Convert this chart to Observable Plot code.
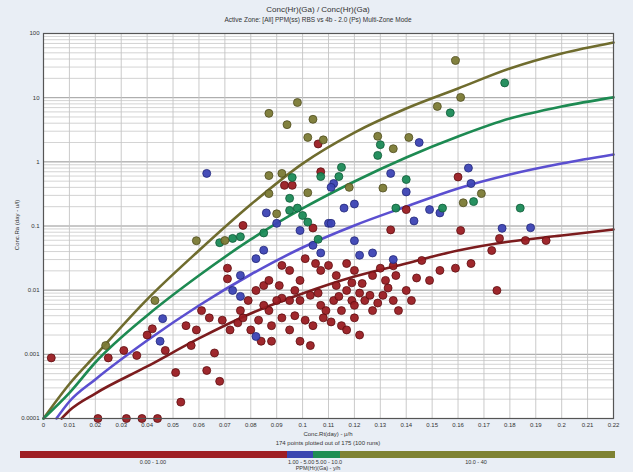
<!DOCTYPE html>
<html><head><meta charset="utf-8">
<script src="https://cdn.jsdelivr.net/npm/d3@7"></script>
<script src="https://cdn.jsdelivr.net/npm/@observablehq/plot@0.6"></script>
<style>
body{margin:0;background:#fff;font-family:"Liberation Sans",Arial,sans-serif;}
#wrap{position:relative;width:633px;height:472px;background:#e9eef5;overflow:hidden;}
#chart{position:absolute;left:0;top:0;}
.t{position:absolute;white-space:nowrap;color:#333;transform:translateX(-50%);line-height:1;}
#bar{position:absolute;left:20px;top:451px;height:7px;width:595px;display:flex;}
#bar div{height:100%;}
</style></head><body>
<div id="wrap">
<div id="chart"></div>
<div class="t" style="left:318px;top:6px;font-size:8px;">Conc(Hr)(Ga) / Conc(Hr)(Ga)</div>
<div class="t" style="left:318px;top:17px;font-size:6.5px;">Active Zone: [All] PPM(ss) RBS vs 4b - 2.0 (Ps) Multi-Zone Mode</div>
<div class="t" style="left:17px;top:225px;font-size:6px;transform:translate(-50%,-50%) rotate(-90deg);">Conc.Ra (day - u/l)</div>
<div class="t" style="left:328px;top:431px;font-size:6px;">Conc.Rt(day) - μ/h</div>
<div class="t" style="left:328px;top:440px;font-size:6px;">174 points plotted out of 175 (100 runs)</div>
<div id="bar"></div>
<div id="legendLabels"></div>
<div class="t" style="left:318px;top:466px;font-size:5.5px;">PPM(Hr)(Ga) - y/h</div>
</div>
<script>
// ---- curves (iso-lines) ----
const curveX      = [0, 0.01, 0.02, 0.04, 0.06, 0.08, 0.1, 0.12, 0.14, 0.16, 0.18, 0.2, 0.22];
const oliveCurveY = [0.0001, 0.000345, 0.000959, 0.0072, 0.0415, 0.216, 0.94, 2.86, 6.78, 13.9, 28.5, 48.8, 72.4];
const greenCurveY = [0.0001, 0.000251, 0.000746, 0.00403, 0.0169, 0.0617, 0.1875, 0.494, 1.17, 2.48, 4.73, 7.28, 10.1];
const blueCurveX  = [0.005, 0.01, 0.02, 0.04, 0.06, 0.08, 0.1, 0.12, 0.14, 0.16, 0.18, 0.2, 0.22];
const blueCurveY  = [0.0001, 0.000184, 0.000406, 0.00164, 0.00577, 0.01754, 0.0462, 0.102, 0.201, 0.385, 0.635, 0.94, 1.30];
const redCurveX   = [0.007, 0.01, 0.02, 0.04, 0.06, 0.08, 0.1, 0.12, 0.14, 0.16, 0.18, 0.2, 0.22];
const redCurveY   = [0.0001, 0.000133, 0.000245, 0.000647, 0.00177, 0.00433, 0.00887, 0.0163, 0.0261, 0.0415, 0.0574, 0.0711, 0.0883];

// ---- points ----
const oliveX = [0.024,0.043,0.070,0.087,0.098,0.094,0.104,0.102,0.108,0.087,0.092,0.087,0.102,0.090,0.159,0.161,0.152,0.129,0.135,0.141,0.118,0.131,0.169,0.162,0.059];
const oliveY = [0.00137,0.0069,0.0594,5.7,8.4,3.8,4.6,2.4,2.2,0.61,0.66,0.32,0.33,0.155,37.9,10.1,7.3,2.5,1.6,2.4,0.40,0.39,0.32,0.23,0.059];
const greenX = [0.096,0.107,0.095,0.095,0.098,0.100,0.102,0.178,0.157,0.130,0.129,0.115,0.114,0.140,0.166,0.184,0.136,0.154,0.073,0.076,0.068,0.085,0.106];
const greenY = [0.57,0.59,0.27,0.175,0.19,0.146,0.115,17,5.8,1.85,1.26,0.82,0.59,0.53,0.24,0.19,0.19,0.19,0.064,0.068,0.055,0.078,0.062];
const blueX = [0.063,0.086,0.110,0.090,0.145,0.112,0.111,0.134,0.140,0.164,0.165,0.116,0.120,0.149,0.153,0.111,0.143,0.177,0.188,0.085,0.082,0.073,0.076,0.045,0.046,0.082,0.104,0.107,0.122,0.127,0.135,0.099,0.076,0.120];
const blueY = [0.66,0.16,0.11,0.11,2.0,0.46,0.40,0.66,0.34,0.80,0.46,0.19,0.22,0.18,0.16,0.11,0.12,0.092,0.094,0.042,0.031,0.0099,0.0080,0.0016,0.0036,0.0019,0.050,0.038,0.035,0.038,0.030,0.085,0.017,0.059];
const redX = [0.003,0.021,0.032,0.038,0.044,0.053,0.025,0.031,0.036,0.040,0.042,0.047,0.051,0.057,0.063,0.066,0.068,0.059,0.064,0.069,0.072,0.075,0.077,0.080,0.084,0.088,0.077,0.093,0.096,0.106,0.107,0.104,0.160,0.140,0.134,0.161,0.071,0.071,0.082,0.085,0.087,0.091,0.092,0.095,0.097,0.099,0.103,0.106,0.107,0.109,0.112,0.114,0.115,0.117,0.119,0.120,0.122,0.124,0.126,0.127,0.129,0.131,0.133,0.135,0.137,0.101,0.104,0.108,0.111,0.115,0.120,0.117,0.099,0.103,0.095,0.092,0.101,0.105,0.107,0.110,0.113,0.117,0.120,0.123,0.127,0.130,0.132,0.136,0.146,0.149,0.153,0.159,0.165,0.173,0.176,0.186,0.194,0.175,0.142,0.140,0.087,0.092,0.095,0.099,0.097,0.090,0.085,0.079,0.076,0.061,0.055,0.083,0.088,0.119,0.113,0.122,0.144,0.135];
const redY = [0.00088,0.0001,0.0001,0.0001,0.0001,0.00018,0.00088,0.00115,0.00096,0.0020,0.0025,0.00115,0.00052,0.00137,0.00056,0.00105,0.00038,0.0024,0.0037,0.0034,0.0024,0.0031,0.0037,0.0024,0.0016,0.0016,0.102,0.43,0.43,1.9,0.70,0.093,0.58,0.18,0.087,0.085,0.022,0.015,0.0099,0.0118,0.0142,0.0118,0.0075,0.0069,0.0099,0.0069,0.0083,0.0090,0.0058,0.0048,0.0069,0.0080,0.0048,0.0099,0.0069,0.0058,0.0090,0.0069,0.0083,0.0048,0.0063,0.0083,0.0108,0.0069,0.0048,0.0034,0.0028,0.0037,0.0032,0.0028,0.0037,0.0024,0.0016,0.00137,0.0024,0.0037,0.031,0.026,0.0203,0.0243,0.0169,0.026,0.0203,0.0127,0.0169,0.022,0.0142,0.0169,0.029,0.0142,0.0203,0.022,0.026,0.0415,0.064,0.0594,0.0594,0.0099,0.0069,0.0099,0.0048,0.0243,0.0203,0.0142,0.0040,0.0069,0.0058,0.0069,0.0048,0.0048,0.0028,0.0034,0.0028,0.0130,0.0118,0.0020,0.0155,0.024];

// ---- axis ticks and legend ----
const xTicks = d3.range(0, 23).map(i => +(i * 0.01).toFixed(2));
const yTicks = [0.0001,0.0002,0.0005,0.001,0.002,0.005,0.01,0.02,0.05,0.1,0.2,0.5,1,2,5,10,20,50,100];
const legendLabels = ["0.00 - 1.00", "1.00 - 5.00   5.00 - 10.0", "10.0 - 40"];
const legendColors = ["#9e1f24", "#3a46b0", "#1f8e52", "#7e8232"];
const legendBreaks = [0, 267, 293, 320, 595];

const colors = {red:"#9a1c22", blue:"#3c43b4", green:"#1b8a57", olive:"#7b7a35"};
const strokes = {red:"#5e0f12", blue:"#23287a", green:"#0f5a37", olive:"#4f4d1f"};

const pts = [];
const add = (xs, ys, c) => xs.forEach((x, i) => pts.push({x, y: ys[i], c}));
add(redX, redY, "red"); add(blueX, blueY, "blue"); add(greenX, greenY, "green"); add(oliveX, oliveY, "olive");

const curve = (xs, ys, c) => xs.map((x, i) => ({x, y: ys[i], c}));
const curves = [
  ...curve(curveX, oliveCurveY, "olive"),
  ...curve(curveX, greenCurveY, "green"),
  ...curve(blueCurveX, blueCurveY, "blue"),
  ...curve(redCurveX, redCurveY, "red")
];
const curveColors = {olive:"#6f6c2e", green:"#1d8a52", blue:"#5b4fd0", red:"#7c1c1e"};

// minor grid
const minorY = [];
for (let e = -4; e < 2; e++) for (let k = 1; k <= 9; k++) minorY.push(+(k * Math.pow(10, e)).toPrecision(3));
minorY.push(100);
const majorY = [0.0001,0.001,0.01,0.1,1,10,100];

const plot = Plot.plot({
  width: 633, height: 448,
  marginTop: 33, marginBottom: 30, marginLeft: 43, marginRight: 20,
  style: {background: "transparent", fontFamily: "Liberation Sans, Arial, sans-serif", fontSize: "6px", color: "#333"},
  x: {domain: [0, 0.22], ticks: xTicks, tickFormat: d => d === 0 ? "0" : String(+d.toFixed(2)), tickSize: 0, tickPadding: 4, label: null},
  y: {type: "log", domain: [0.0001, 100], ticks: yTicks, tickFormat: d3.format("~g"), tickSize: 0, tickPadding: 4, label: null},
  marks: [
    Plot.frame({fill: "white"}),
    Plot.ruleY(minorY, {stroke: "#c8c8c8", strokeWidth: 0.8}),
    Plot.ruleY(majorY, {stroke: "#a0a0a0", strokeWidth: 0.9}),
    Plot.ruleX(xTicks, {stroke: "#c4c4c4", strokeWidth: 0.9}),
    Plot.line(curves, {x: "x", y: "y", z: "c", stroke: d => curveColors[d.c], strokeWidth: 2.6, curve: "monotone-x"}),
    Plot.dot(pts, {x: "x", y: "y", r: 4, fill: d => colors[d.c], stroke: d => strokes[d.c], strokeWidth: 0.8, fillOpacity: 0.95}),
    Plot.frame({stroke: "#555", strokeWidth: 1.2})
  ]
});
document.getElementById("chart").appendChild(plot);

// legend bar
const bar = document.getElementById("bar");
legendColors.forEach((c, i) => {
  const d = document.createElement("div");
  d.style.width = (legendBreaks[i + 1] - legendBreaks[i]) + "px";
  d.style.background = c;
  bar.appendChild(d);
});
const labPos = [153, 315, 476];
const ll = document.getElementById("legendLabels");
legendLabels.forEach((t, i) => {
  const d = document.createElement("div");
  d.className = "t";
  d.style.left = labPos[i] + "px"; d.style.top = "460px"; d.style.fontSize = "5.5px";
  d.textContent = t;
  ll.appendChild(d);
});
</script>
</body></html>
